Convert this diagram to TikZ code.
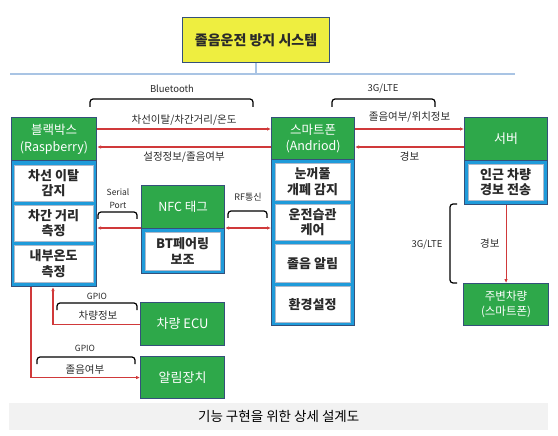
\documentclass[tikz,border=0pt]{standalone}
\usepackage{fontspec}
\setmainfont{Noto Sans CJK KR}
\usetikzlibrary{arrows.meta,calc}
\definecolor{gr}{HTML}{2EA84A}
\definecolor{bl}{HTML}{1F9BDA}
\definecolor{bd}{HTML}{35507A}
\definecolor{rd}{HTML}{D0393A}
\definecolor{yl}{HTML}{EEEE40}
\definecolor{hl}{HTML}{A9C4E4}
\definecolor{capc}{HTML}{F2F2F2}
\definecolor{tx}{HTML}{2A2A2A}
\begin{document}
\begin{tikzpicture}[x=1pt,y=-1pt,
  box/.style={draw=bd, line width=1.1pt, inner sep=0pt, anchor=north west, align=center},
  frame/.style={box, fill=bl},
  hdr/.style={box, fill=gr, text=white, font=\fontsize{12.5}{16.5}\selectfont},
  cell/.style={anchor=north west, inner sep=0pt, fill=white, draw=bd!40, line width=0.3pt, align=center, text=tx, font=\fontsize{13}{15.5}\selectfont\bfseries},
  flow/.style={draw=rd, line width=1.1pt, -{Latex[length=4pt,width=3.6pt]}},
  flowb/.style={draw=rd, line width=1.1pt, {Latex[length=4pt,width=3.6pt]}-{Latex[length=4pt,width=3.6pt]}},
  brk/.style={draw=black, line width=1.2pt, rounded corners=3pt},
  lbl/.style={font=\fontsize{9.5}{11}\selectfont, text=tx, inner sep=0pt, align=center},
  klbl/.style={lbl, font=\fontsize{10.5}{12}\selectfont},
]
\useasboundingbox (0,0) rectangle (558,436);

% title
\node[box, fill=yl, minimum width=147pt, minimum height=45pt, text=tx,
      font=\fontsize{14}{16}\selectfont\bfseries] (top) at (182,17) {졸음운전 방지 시스템};
\coordinate (yh) at (0,74);
\draw[hl, line width=1.3pt] (top.south) -- (top.south |- yh);
\coordinate (hlL) at (10,74);
\coordinate (hlR) at (515,74);
\draw[hl, line width=1.3pt] (hlL) -- (hlR);

% black box
\node[frame, minimum width=85pt, minimum height=169pt] (bb) at (11,117) {};
\node[hdr, minimum width=85pt, minimum height=43pt] (bbh) at (11,117) {블랙박스\\(Raspberry)};
\node[cell, minimum width=79pt, minimum height=36pt] (bb1) at (14,165) {차선 이탈\\감지};
\node[cell, minimum width=79pt, minimum height=36pt] (bb2) at (14,205) {차간 거리\\측정};
\node[cell, minimum width=79pt, minimum height=37pt] (bb3) at (14,245) {내부온도\\측정};

% smartphone
\node[frame, minimum width=83pt, minimum height=208pt] (sp) at (271,117) {};
\node[hdr, minimum width=83pt, minimum height=42pt] (sph) at (271,117) {스마트폰\\(Andriod)};
\node[cell, minimum width=75pt, minimum height=37pt] (sp1) at (275,163) {눈꺼풀\\개폐 감지};
\node[cell, minimum width=75pt, minimum height=36pt] (sp2) at (275,204) {운전습관\\케어};
\node[cell, minimum width=75pt, minimum height=38pt] (sp3) at (275,244) {졸음 알림};
\node[cell, minimum width=75pt, minimum height=36pt] (sp4) at (275,286) {환경설정};

% server
\node[frame, minimum width=83pt, minimum height=87pt] (sv) at (464,117) {};
\node[hdr, minimum width=83pt, minimum height=43pt, font=\fontsize{13}{16}\selectfont] (svh) at (464,117) {서버};
\node[cell, minimum width=75pt, minimum height=36pt] (sv1) at (468,164) {인근 차량\\경보 전송};

% NFC
\node[frame, minimum width=83pt, minimum height=88pt] (nfc) at (141,185) {};
\node[hdr, minimum width=83pt, minimum height=43pt, font=\fontsize{12.5}{16}\selectfont] (nfch) at (141,185) {NFC 태그};
\node[cell, minimum width=75pt, minimum height=38pt] (nfc1) at (145,232) {BT페어링\\보조};

% other green boxes
\node[hdr, minimum width=84pt, minimum height=43pt, font=\fontsize{13}{16}\selectfont] (ecu) at (140,302) {차량 ECU};
\node[hdr, minimum width=84pt, minimum height=42pt, font=\fontsize{13}{16}\selectfont] (al) at (140,356) {알림장치};
\node[hdr, minimum width=85pt, minimum height=42pt, font=\fontsize{11.5}{15}\selectfont] (nb) at (463,283) {주변차량\\(스마트폰)};

% levels
\coordinate (ya) at (0,129);
\coordinate (yb) at (0,147);
\coordinate (yc) at (0,228);
\coordinate (xa) at (31,0);
\coordinate (xb) at (53,0);

% brackets and protocol labels
\draw[brk] (90,107) -- (90,99) -- (253,99) -- (253,107);
\node[lbl] (bt) at (172,89) {Bluetooth};
\draw[brk] (332,107) -- (332,99) -- (435,99) -- (435,107);
\node[lbl] (lte1) at (383,89) {3G/LTE};
\draw[brk] (98,219) -- (98,212) -- (137,212) -- (137,219);
\node[lbl, font=\fontsize{8.5}{13}\selectfont] (sp0) at (118,199) {Serial\\Port};
\draw[brk] (228,218) -- (228,211) -- (267,211) -- (267,218);
\node[lbl, font=\fontsize{9}{11}\selectfont] (rf) at (248,197) {RF통신};
\draw[brk] (457,204) -- (450,204) -- (450,283) -- (457,283);
\node[lbl] (lte2) at (427,245) {3G/LTE};
\draw[brk] (57,310) -- (57,303) -- (137,303) -- (137,310);
\node[lbl, font=\fontsize{8.5}{11}\selectfont] (g1) at (97,296) {GPIO};
\node[klbl] (g1t) at (98,316) {차량정보};
\draw[brk] (37,364) -- (37,357) -- (135,357) -- (135,364);
\node[lbl, font=\fontsize{8.5}{11}\selectfont] (g2) at (85,348) {GPIO};
\node[klbl] (g2t) at (85,370) {졸음여부};

% connectors
\draw[flow] (bb.east |- ya) -- node[klbl, above=3pt] {차선이탈/차간거리/온도} (sp.west |- ya);
\draw[flow] (sp.west |- yb) -- node[klbl, below=4pt] {설정정보/졸음여부} (bb.east |- yb);
\draw[flow] (sp.east |- ya) -- node[klbl, above=6pt] {졸음여부/위치정보} (sv.west |- ya);
\draw[flow] (sv.west |- yb) -- node[klbl, below=4pt] {경보} (sp.east |- yb);
\draw[flow] (nfc.west |- yc) -- (bb.east |- yc);
\draw[flowb] (sp.west |- yc) -- (nfc.east |- yc);
\draw[flow] (sv.south) -- node[klbl, left=6pt] {경보} (nb.north);
\draw[flow] (bb.south -| xa) |- (al.west);
\draw[flow] (ecu.west) -| (bb.south -| xb);

% caption
\node[anchor=north west, fill=capc, minimum width=539pt, minimum height=27pt, inner sep=0pt,
      text=black, font=\fontsize{13.5}{16}\selectfont] (cap) at (9,403) {기능 구현을 위한 상세 설계도};
\end{tikzpicture}
\end{document}
